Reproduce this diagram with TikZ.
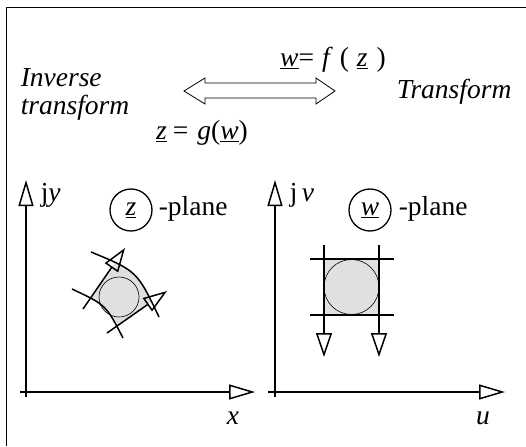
\documentclass[tikz,border=0pt]{standalone}
\usepackage{fontspec}
\setmainfont{Liberation Serif}
\usetikzlibrary{arrows.meta}

\begin{document}
\begin{tikzpicture}[x=1pt, y=-1pt, line width=1.5pt,
  txt/.style={font=\fontsize{27.5}{28}\selectfont, inner sep=0pt},
  axis/.style={-{Triangle[open, length=26pt, width=15pt]}},
  flow/.style={-{Triangle[open, length=24pt, width=16pt]}},
  plane/.style={draw, circle, line width=1.3pt, minimum size=42pt, inner sep=0pt, font=\fontsize{27.5}{28}\selectfont},
  disc/.style={draw, line width=0.6pt, fill=black!12}]
\useasboundingbox (0,0) rectangle (526,446);
\draw[line width=1pt] (526,8) -- (6,8) -- (6,446);

% heading
\node[txt, anchor=west, align=left] (inv) at (20,94) {\textit{Inverse}\\\textit{transform}};
\node[txt, anchor=west] (fwd) at (396,92) {\textit{Transform}};
\node[txt] (wf) at (333,60) {\underline{\textit{w}}=\hspace{8pt}\textit{f}\hspace{7pt}(\hspace{8pt}\underline{\textit{z}}\hspace{9pt})};
\node[txt] (zg) at (202,133) {\underline{\textit{z}}\hspace{6pt}=\hspace{9pt}\textit{g}(\underline{\textit{w}})};
\draw[line width=0.8pt] (184,91) -- (205,78) -- (205,83) -- (316,83) -- (316,78) -- (335,91)
  -- (316,104) -- (316,98) -- (205,98) -- (205,104) -- cycle;

% z-plane
\coordinate (zo) at (26,392);
\draw[axis] (26,397) -- (26,180) coordinate (zy);
\draw[axis] (20,392) -- (255,392) coordinate (zx);
\node[txt, anchor=west] (zylbl) at (40,195) {j\textit{y}};
\node[txt] (zxlbl) at (233,418) {\textit{x}};
\node[plane] (zc) at (131,210) {\underline{\textit{z}}};
\node[txt, anchor=west] (zp) at (158,209) {-plane};
\begin{scope}
  \clip (91,252) .. controls (137,271) .. (159,317) -- (100,380) -- (40,300) -- cycle;
  \clip (72,289) .. controls (106,305) .. (123,338) -- (180,300) -- (130,240) -- cycle;
  \fill[black!12] (83,309) -- (125,248) -- (167,291) -- (107,333) -- cycle;
\end{scope}
\draw[disc] (119,297) circle (20);
\draw (91,252) .. controls (137,271) .. (159,317);
\draw (72,289) .. controls (106,305) .. (123,338);
\coordinate (za) at (83,309);
\coordinate (zb) at (107,333);
\draw[flow] (za) -- (125,248);
\draw[flow] (zb) -- (167,291);

% w-plane
\coordinate (wo) at (275,392);
\draw[axis] (275,397) -- (275,180) coordinate (wy);
\draw[axis] (268,392) -- (505,392) coordinate (wx);
\node[txt, anchor=west] (wylbl) at (289,195) {j\,\textit{v}};
\node[txt] (wxlbl) at (483,418) {\textit{u}};
\node[plane] (wc) at (370,210) {\underline{\textit{w}}};
\node[txt, anchor=west] (wp) at (398,209) {-plane};
\fill[black!12] (324,259) rectangle (379,315);
\draw[disc] (351.5,287) circle (27.5);
\foreach \y in {259,315}
  \draw (310,\y) -- (394,\y);
\foreach \x in {324,379}
  \draw[flow] (\x,245) -- (\x,357);
\end{tikzpicture}
\end{document}
